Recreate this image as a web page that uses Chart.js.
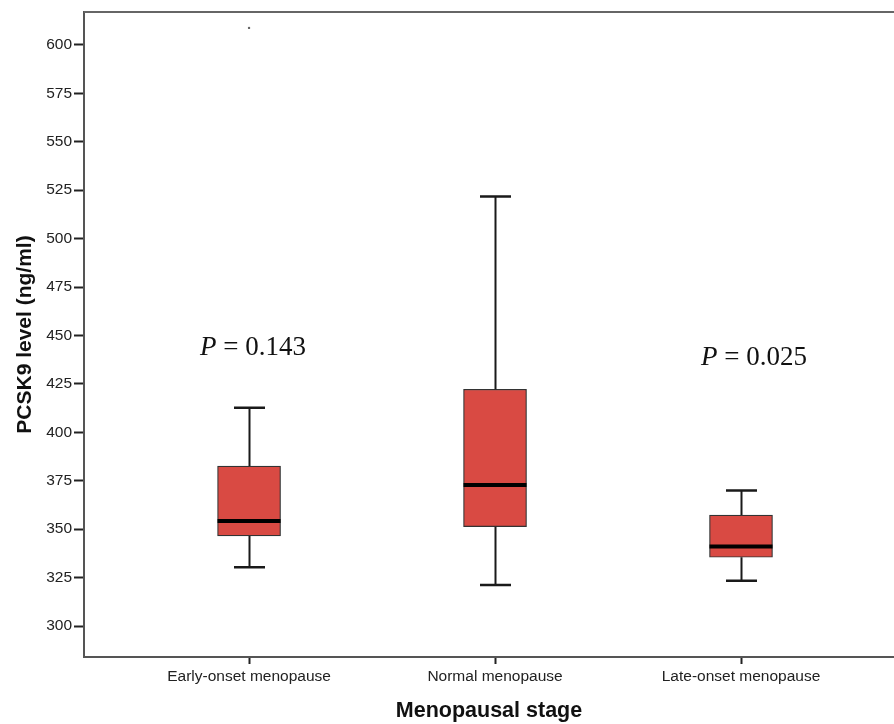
<!DOCTYPE html>
<html><head><meta charset="utf-8">
<script src="https://cdn.jsdelivr.net/npm/chart.js@4.4.1/dist/chart.umd.min.js"></script>
<style>html,body{margin:0;padding:0;background:#fff}#wrap{width:894px;height:724px}</style>
</head><body><div id="wrap"><canvas id="c" width="894" height="724"></canvas></div>
<script>
// ---- data ----
const categories = ['Early-onset menopause', 'Normal menopause', 'Late-onset menopause'];
const whiskerLow  = [330.3, 321.2, 323.4];
const q1          = [346.5, 351.3, 335.5];
const median      = [354.2, 372.8, 341.0];
const q3          = [382.6, 422.2, 357.3];
const whiskerHigh = [412.7, 521.7, 369.9];
const outlierCat  = [1];
const outlierVal  = [608.8];
const yTicks = [300, 325, 350, 375, 400, 425, 450, 475, 500, 525, 550, 575, 600];
const pLabels = ['0.143', '0.025'];
const pAtCat  = [1.016, 3.053];
const pAtVal  = [439.9, 434.8];

const boxPlugin = {
  id: 'boxparts',
  afterDatasetsDraw(chart) {
    const ctx = chart.ctx, xs = chart.scales.x, ys = chart.scales.y, ca = chart.chartArea;
    const meta = chart.getDatasetMeta(0);
    ctx.save();
    ctx.strokeStyle = '#1a1a1a';
    ctx.lineCap = 'butt';
    meta.data.forEach((el, i) => {
      const cx = Math.round(el.x) + 0.5, hw = el.width / 2;
      const yLo = ys.getPixelForValue(whiskerLow[i]);
      const yQ1 = ys.getPixelForValue(q1[i]);
      const yMd = ys.getPixelForValue(median[i]);
      const yQ3 = ys.getPixelForValue(q3[i]);
      const yHi = ys.getPixelForValue(whiskerHigh[i]);
      ctx.lineWidth = 2;
      ctx.beginPath();
      ctx.moveTo(cx, yQ3); ctx.lineTo(cx, yHi);
      ctx.moveTo(cx, yQ1); ctx.lineTo(cx, yLo);
      ctx.stroke();
      ctx.lineWidth = 2.5;
      ctx.beginPath();
      ctx.moveTo(cx - 15.5, yHi); ctx.lineTo(cx + 15.5, yHi);
      ctx.moveTo(cx - 15.5, yLo); ctx.lineTo(cx + 15.5, yLo);
      ctx.stroke();
      ctx.lineWidth = 4;
      ctx.strokeStyle = '#000';
      ctx.beginPath();
      ctx.moveTo(el.x - hw, yMd); ctx.lineTo(el.x + hw, yMd);
      ctx.stroke();
      ctx.strokeStyle = '#1a1a1a';
    });
    // outliers
    ctx.fillStyle = '#666';
    outlierCat.forEach((c, i) => {
      const px = xs.getPixelForValue(c), py = ys.getPixelForValue(outlierVal[i]);
      ctx.beginPath(); ctx.arc(px, py, 1.2, 0, Math.PI * 2); ctx.fill();
    });
    // top frame line
    ctx.strokeStyle = '#666'; ctx.lineWidth = 2;
    ctx.beginPath(); ctx.moveTo(ca.left, ca.top); ctx.lineTo(ca.right, ca.top); ctx.stroke();
    // P annotations
    ctx.fillStyle = '#111';
    ctx.textBaseline = 'alphabetic';
    pLabels.forEach((t, i) => {
      const fI = 'italic 27px "Liberation Serif", serif';
      const fR = '27px "Liberation Serif", serif';
      const rest = ' = ' + t;
      ctx.font = fI; const w1 = ctx.measureText('P').width;
      ctx.font = fR; const w2 = ctx.measureText(rest).width;
      const cx = xs.getPixelForValue(pAtCat[i]), by = ys.getPixelForValue(pAtVal[i]);
      const x0 = cx - (w1 + w2) / 2;
      ctx.font = fI; ctx.textAlign = 'left'; ctx.fillText('P', x0, by);
      ctx.font = fR; ctx.fillText(rest, x0 + w1, by);
    });
    ctx.restore();
  }
};

new Chart(document.getElementById('c'), {
  type: 'bar',
  data: {
    datasets: [{
      data: categories.map((c, i) => ({ x: i + 1, y: [q1[i], q3[i]] })),
      backgroundColor: '#d94a43',
      borderColor: '#333',
      borderWidth: 1.2,
      borderSkipped: false,
      barThickness: 63
    }]
  },
  options: {
    responsive: false,
    animation: false,
    devicePixelRatio: 1,
    layout: { padding: { top: 12, right: 0, bottom: 0, left: 0 } },
    plugins: { legend: { display: false }, tooltip: { enabled: false } },
    scales: {
      x: {
        type: 'linear', min: 0.329, max: 3.622, offset: false,
        afterBuildTicks: s => { s.ticks = categories.map((c, i) => ({ value: i + 1 })); },
        grid: { offset: false, drawOnChartArea: false, drawTicks: true, tickLength: 7, tickWidth: 2, tickColor: '#222' },
        border: { color: '#555', width: 2 },
        ticks: {
          callback: v => categories[v - 1] || '',
          font: { family: 'Liberation Sans', size: 15.5 }, color: '#222', padding: 3,
          maxRotation: 0, autoSkip: false
        },
        title: {
          display: true, text: 'Menopausal stage',
          font: { family: 'Liberation Sans', size: 21.5, weight: 'bold' }, color: '#111',
          padding: { top: 0, bottom: 0 }
        },
        afterFit: s => { s.height = 67; }
      },
      y: {
        min: 284, max: 617,
        afterBuildTicks: s => { s.ticks = yTicks.map(v => ({ value: v })); },
        grid: { drawOnChartArea: false, tickLength: 10, tickWidth: 2, tickColor: '#222' },
        border: { color: '#555', width: 2 },
        ticks: { font: { family: 'Liberation Sans', size: 15.5 }, color: '#222', padding: 2 },
        title: {
          display: true, text: 'PCSK9 level (ng/ml)',
          font: { family: 'Liberation Sans', size: 21, weight: 'bold' }, color: '#111',
          padding: { top: 12.5, bottom: 0 }
        },
        afterFit: s => { s.width = 84; }
      }
    }
  },
  plugins: [boxPlugin]
});
</script>
</body></html>
